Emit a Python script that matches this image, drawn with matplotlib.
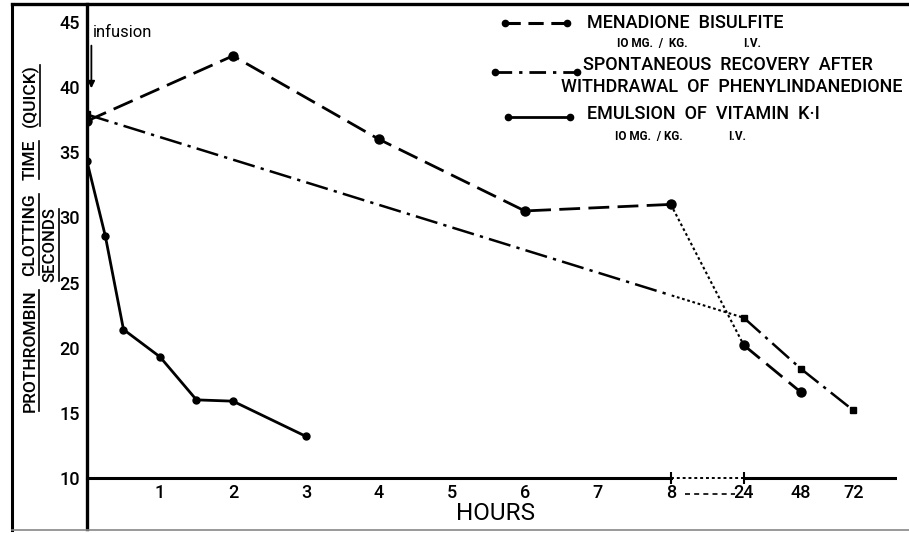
import numpy as np
import matplotlib.pyplot as plt
from matplotlib.lines import Line2D
from matplotlib.patches import Rectangle

plt.rcParams['font.family'] = ['Roboto', 'DejaVu Sans']

# broken time axis: hours -> position (linear to 8 h, then squeezed)
tick_hours = [1, 2, 3, 4, 5, 6, 7, 8, 24, 48, 72]
tick_pos = [1, 2, 3, 4, 5, 6, 7, 8, 9.0, 9.78, 10.5]
tick_labels = ['1', '2', '3', '4', '5', '6', '7', '8', '24', '48', '72']

# menadione bisulfite 10 mg/kg i.v.
mena_hours = [0, 2, 4, 6, 8, 24, 48]
mena_time = [37.4, 42.4, 36.0, 30.5, 31.0, 20.2, 16.6]

# spontaneous recovery after withdrawal of phenylindanedione
spont_hours = [0, 24, 48, 72]
spont_time = [37.9, 22.3, 18.4, 15.2]

# emulsion of vitamin K-1 10 mg/kg i.v.
vitk_hours = [0, 0.25, 0.5, 1, 1.5, 2, 3]
vitk_time = [34.3, 28.6, 21.4, 19.3, 16.0, 15.9, 13.2]


def xpos(h):
    return np.interp(h, [0] + tick_hours, [0] + tick_pos)


W, H = 909, 533
fig = plt.figure(figsize=(W / 100, H / 100), dpi=100)
ax = fig.add_axes([87 / W, 4 / H, 810 / W, 525 / H])
ax.set_xlim(0, 11.1)
ax.set_ylim(6.09, 46.38)

lw = 2.0
# menadione
mx, my = xpos(mena_hours), np.array(mena_time)
ax.plot(mx[:5], my[:5], color='black', lw=lw, dashes=(7.5, 3))
ax.plot(mx[4:6], my[4:6], color='black', lw=1.5, dashes=(1.3, 1.3))
ax.plot(mx[5:], my[5:], color='black', lw=lw, dashes=(7.5, 3))
ax.plot(mx, my, 'o', color='black', ms=6.5)

# spontaneous recovery (dash-dot up to 8 h, dotted across the break)
sx, sy = xpos(spont_hours), np.array(spont_time)
l1, = ax.plot(sx[:2], sy[:2], color='black', lw=1.8, dashes=(9, 2.5, 1.3, 2.5))
l1.set_clip_path(Rectangle((-1, 0), 9, 60, transform=ax.transData))
l2, = ax.plot(sx[:2], sy[:2], color='black', lw=1.5, dashes=(1.3, 1.3))
l2.set_clip_path(Rectangle((8, 0), 5, 60, transform=ax.transData))
ax.plot(sx[1:], sy[1:], color='black', lw=1.8, dashes=(9, 2.5, 1.3, 2.5))
ax.plot(sx, sy, 's', color='black', ms=4.5)

# vitamin K-1
ax.plot(xpos(vitk_hours), vitk_time, '-o', color='black', lw=lw, ms=5)

# axes
for s in ['top', 'right']:
    ax.spines[s].set_visible(False)
ax.spines['left'].set_linewidth(2.4)
ax.spines['bottom'].set_position(('data', 10))
ax.spines['bottom'].set_bounds(0, 8)
ax.spines['bottom'].set_linewidth(2.2)
ax.hlines(10, 8, 9, color='black', lw=1.4, linestyles=(0, (1.5, 1.5)))
ax.hlines(10, 9, 11.1, color='black', lw=2.2)
ax.plot([8, 9], [10, 10], '|', color='black', ms=9, mew=1.5)
ax.hlines(8.75, 8.2, 8.88, color='black', lw=1.2, linestyles=(0, (3, 2.5)))

ax.set_xticks(tick_pos)
ax.set_xticklabels(tick_labels, fontweight='medium')
ax.set_yticks(range(10, 46, 5))
ax.set_yticklabels([str(v) for v in range(10, 46, 5)], fontweight='medium')
ax.tick_params(length=0, labelsize=13)
ax.tick_params(axis='x', pad=4)
ax.tick_params(axis='y', pad=5)
ax.text(5.6, 7.3, 'HOURS', ha='center', va='center', fontsize=17.5)

# infusion arrow
ax.text(0.08, 44.2, 'infusion', ha='left', va='center', fontsize=12)
ax.annotate('', xy=(0.06, 39.7), xytext=(0.06, 43.4),
            arrowprops=dict(arrowstyle='-|>', color='black', lw=1.3,
                            mutation_scale=10))


# y labels: vertical words, each underlined on its right side
renderer = fig.canvas.get_renderer()


def underlined_vertical(words, x, yc, size, gap):
    texts = [fig.text(0, 0, w, rotation=90, ha='center', va='bottom',
                      fontsize=size, fontweight='medium', transform=None)
             for w in words]
    hs = [t.get_window_extent(renderer).height for t in texts]
    total = sum(hs) + gap * (len(words) - 1)
    y = (H - yc) - total / 2
    for t, h in zip(texts, hs):
        t.set_position((x, y))
        ext = t.get_window_extent(renderer)
        ux = ext.x1 + 1.5
        fig.add_artist(Line2D([ux, ux], [ext.y0 + 1, ext.y1 - 1], color='black',
                              lw=1.2, transform=None))
        y += h + gap


underlined_vertical(['PROTHROMBIN', 'CLOTTING', 'TIME', '(QUICK)'], 30, 238, 12.5, 13)
underlined_vertical(['SECONDS'], 50, 245, 12, 0)

# outer frame of the figure
fig.add_artist(Line2D([12 / W, 1], [1 - 4 / H] * 2, color='black', lw=2.4))
fig.add_artist(Line2D([12 / W] * 2, [1 - 4 / H, 1 - 530 / H], color='black', lw=2.2))
fig.add_artist(Line2D([12 / W, 1], [1 - 530 / H] * 2, color='#888888', lw=1.2))


# legend drawn by hand
def fx(x):
    return x / W


def fy(y):
    return 1 - y / H


def sample(x0, x1, y, **kw):
    fig.add_artist(Line2D([fx(x0), fx(x1)], [fy(y), fy(y)], color='black', **kw))
    fig.add_artist(Line2D([fx(x0), fx(x1)], [fy(y), fy(y)], color='black',
                          ls='none', marker='o', ms=4.5))


sample(505, 567, 23, lw=2.2, dashes=(5, 2.5))
sample(495, 577, 72, lw=2.0, dashes=(6, 2.5, 1.2, 2.5))
sample(508, 570, 117, lw=2.0)

tkw = dict(ha='left', va='center', fontsize=13, fontweight='medium')
skw = dict(ha='left', va='center', fontsize=8.5, fontweight='bold')
fig.text(fx(587), fy(23), 'MENADIONE  BISULFITE', **tkw)
fig.text(fx(617), fy(43), 'IO MG.  /  KG.', **skw)
fig.text(fx(743), fy(43), 'I.V.', **skw)
fig.text(fx(583), fy(65), 'SPONTANEOUS  RECOVERY  AFTER', **tkw)
fig.text(fx(561), fy(87), 'WITHDRAWAL  OF  PHENYLINDANEDIONE', **tkw)
fig.text(fx(587), fy(114), 'EMULSION  OF  VITAMIN  K·I', **tkw)
fig.text(fx(615), fy(137), 'IO MG.  / KG.', **skw)
fig.text(fx(728), fy(137), 'I.V.', **skw)

fig.savefig('out.png', dpi=100)
